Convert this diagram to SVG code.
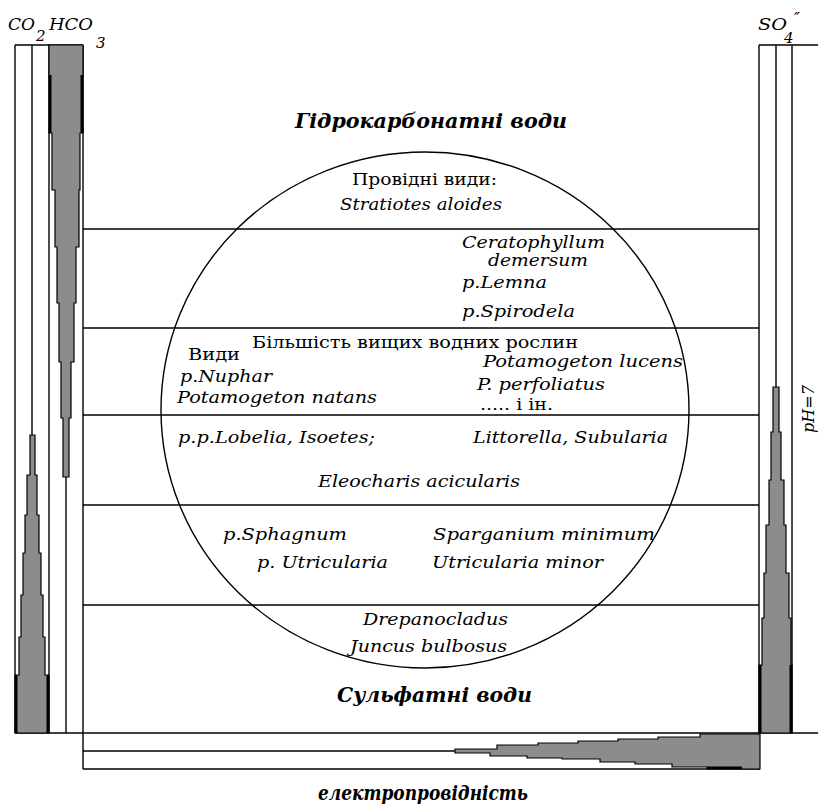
<svg xmlns="http://www.w3.org/2000/svg" width="818" height="808" viewBox="0 0 818 808">
<style>
.ln{stroke:#000;stroke-width:1.4;fill:none}
.wd{fill:#8c8c8c;stroke:#000;stroke-width:1.2}
.bk{fill:#000}
.it{font-family:"DejaVu Serif","Liberation Serif",serif;font-style:italic;font-size:16px;fill:#000}
.rm{font-family:"DejaVu Serif","Liberation Serif",serif;font-size:16px;fill:#000}
.ttl{font-family:"DejaVu Serif","Liberation Serif",serif;font-style:italic;font-weight:bold;font-size:20px;fill:#000}
.sub{font-family:"DejaVu Serif","Liberation Serif",serif;font-style:italic;font-size:15px;fill:#000}
</style>
<rect width="818" height="808" fill="#fff"/>

<g id="connectors">
<line class="ln" x1="83" y1="229" x2="759" y2="229"/>
<line class="ln" x1="83" y1="328" x2="759" y2="328"/>
<line class="ln" x1="83" y1="415" x2="759" y2="415"/>
<line class="ln" x1="83" y1="505" x2="759" y2="505"/>
<line class="ln" x1="83" y1="605" x2="759" y2="605"/>
<line class="ln" x1="15" y1="733" x2="818" y2="733"/>
</g>

<g id="left-column">
<line class="ln" x1="15" y1="45" x2="83" y2="45"/>
<line class="ln" x1="15" y1="45" x2="15" y2="733"/>
<line class="ln" x1="32" y1="45" x2="32" y2="435"/>
<line class="ln" x1="49" y1="45" x2="49" y2="733"/>
<line class="ln" x1="66" y1="477" x2="66" y2="733"/>
<line class="ln" x1="83" y1="45" x2="83" y2="769"/>
<polygon id="hco3-wedge" class="wd" points="49,45 83,45 83,133 80,133 80,190 79,190 79,247 76,247 76,303 74,303 74,362 71,362 71,418 69,418 69,477 63,477 63,418 61,418 61,362 59,362 59,303 57,303 57,247 55,247 55,190 52,190 52,133 49,133"/>
<rect class="bk" x="49" y="75" width="2.5" height="58"/>
<rect class="bk" x="80.5" y="75" width="2.5" height="58"/>
<polygon id="co2-wedge" class="wd" points="30,435 35,435 35,475 37,475 37,515 39,515 39,553 41,553 41,595 43,595 43,637 45,637 45,675 49,675 49,733 15,733 15,675 19,675 19,637 21,637 21,595 23,595 23,553 25,553 25,515 27,515 27,475 30,475"/>
<rect class="bk" x="15" y="675" width="2.5" height="58"/>
<rect class="bk" x="46.5" y="675" width="2.5" height="58"/>
</g>

<g id="right-column">
<line class="ln" x1="759" y1="45" x2="818" y2="45"/>
<line class="ln" x1="759" y1="45" x2="759" y2="769"/>
<line class="ln" x1="776" y1="45" x2="776" y2="387"/>
<line class="ln" x1="792" y1="45" x2="792" y2="733"/>
<polygon id="so4-wedge" class="wd" points="773,387 779,387 779,432 781,432 781,480 784,480 784,525 786,525 786,573 789,573 789,618 791,618 791,665 792,665 792,733 759,733 759,665 762,665 762,618 764,618 764,573 766,573 766,525 769,525 769,480 771,480 771,432 773,432"/>
<rect class="bk" x="759" y="665" width="2.5" height="68"/>
<rect class="bk" x="789.5" y="665" width="2.5" height="68"/>
<text class="it" transform="translate(814,409) rotate(-90)" text-anchor="middle" font-size="15">pH=7</text>
</g>

<g id="bottom-scale">
<line class="ln" x1="83" y1="769" x2="760" y2="769"/>
<line class="ln" x1="83" y1="751" x2="455" y2="751"/>
<polygon id="cond-wedge" class="wd" points="455,749 497,749 497,745 538,745 538,743 578,743 578,741 618,741 618,739 658,739 658,737 700,737 700,734 760,734 760,769 707,769 707,767 672,767 672,764 635,764 635,762 600,762 600,759 562,759 562,758 527,758 527,756 490,756 490,753 455,753"/>
<rect class="bk" x="707" y="766.5" width="35" height="2.5"/>
<text class="ttl" x="318" y="800" textLength="210" lengthAdjust="spacingAndGlyphs">електропровідність</text>
</g>

<g id="ion-labels">
<text class="it" x="8" y="30" textLength="27" lengthAdjust="spacingAndGlyphs">CO</text>
<text class="sub" x="36" y="41">2</text>
<text class="it" x="49" y="30" textLength="44" lengthAdjust="spacingAndGlyphs">HCO</text>
<text class="sub" x="96" y="48">3</text>
<text class="it" x="758" y="30" textLength="29" lengthAdjust="spacingAndGlyphs">SO</text>
<text class="sub" x="784" y="43">4</text>
<text class="it" x="794" y="24" font-size="18">″</text>
</g>

<g id="circle">
<ellipse class="ln" cx="425" cy="410" rx="264" ry="258"/>
</g>

<g id="titles">
<text class="ttl" x="295" y="128" textLength="272" lengthAdjust="spacingAndGlyphs">Гідрокарбонатні води</text>
<text class="ttl" x="337" y="702" textLength="195" lengthAdjust="spacingAndGlyphs">Сульфатні води</text>
</g>

<g id="zone-1">
<text class="rm" x="352" y="185" textLength="145" lengthAdjust="spacingAndGlyphs">Провідні види:</text>
<text class="it" x="340" y="210" textLength="162" lengthAdjust="spacingAndGlyphs">Stratiotes aloides</text>
</g>
<g id="zone-2">
<text class="it" x="462" y="248" textLength="143" lengthAdjust="spacingAndGlyphs">Ceratophyllum</text>
<text class="it" x="488" y="266" textLength="100" lengthAdjust="spacingAndGlyphs">demersum</text>
<text class="it" x="462" y="288" textLength="85" lengthAdjust="spacingAndGlyphs">p.Lemna</text>
<text class="it" x="462" y="317" textLength="113" lengthAdjust="spacingAndGlyphs">p.Spirodela</text>
</g>
<g id="zone-3">
<text class="rm" x="252" y="348" textLength="326" lengthAdjust="spacingAndGlyphs">Більшість вищих водних рослин</text>
<text class="rm" x="188" y="360" textLength="52" lengthAdjust="spacingAndGlyphs">Види</text>
<text class="it" x="180" y="382" textLength="92" lengthAdjust="spacingAndGlyphs">p.Nuphar</text>
<text class="it" x="177" y="403" textLength="200" lengthAdjust="spacingAndGlyphs">Potamogeton natans</text>
<text class="it" x="483" y="367" textLength="200" lengthAdjust="spacingAndGlyphs">Potamogeton lucens</text>
<text class="it" x="477" y="390" textLength="128" lengthAdjust="spacingAndGlyphs">P. perfoliatus</text>
<text class="rm" x="480" y="410" textLength="73" lengthAdjust="spacingAndGlyphs">..... і ін.</text>
</g>
<g id="zone-4">
<text class="it" x="178" y="443" textLength="197" lengthAdjust="spacingAndGlyphs">p.p.Lobelia,  Isoetes;</text>
<text class="it" x="473" y="443" textLength="195" lengthAdjust="spacingAndGlyphs">Littorella,  Subularia</text>
<text class="it" x="318" y="487" textLength="202" lengthAdjust="spacingAndGlyphs">Eleocharis acicularis</text>
</g>
<g id="zone-5">
<text class="it" x="223" y="540" textLength="124" lengthAdjust="spacingAndGlyphs">p.Sphagnum</text>
<text class="it" x="433" y="540" textLength="222" lengthAdjust="spacingAndGlyphs">Sparganium minimum</text>
<text class="it" x="257" y="568" textLength="131" lengthAdjust="spacingAndGlyphs">p. Utricularia</text>
<text class="it" x="432" y="568" textLength="171" lengthAdjust="spacingAndGlyphs">Utricularia minor</text>
</g>
<g id="zone-6">
<text class="it" x="363" y="625" textLength="145" lengthAdjust="spacingAndGlyphs">Drepanocladus</text>
<text class="it" x="350" y="652" textLength="157" lengthAdjust="spacingAndGlyphs">Juncus bulbosus</text>
</g>
</svg>
